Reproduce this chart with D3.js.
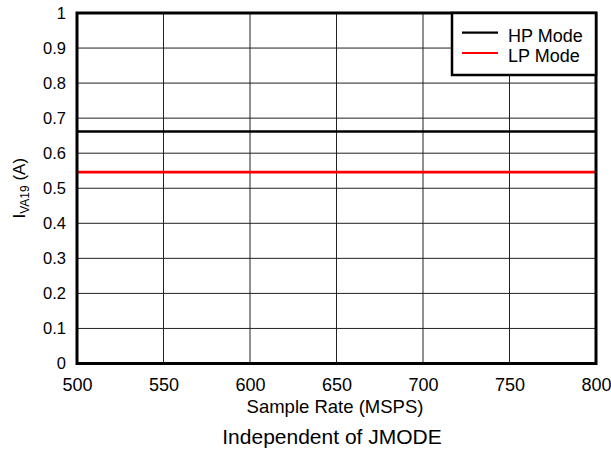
<!DOCTYPE html>
<html><head><meta charset="utf-8">
<script src="https://cdn.jsdelivr.net/npm/d3@7"></script>
<style>body{margin:0;background:#fff}svg{display:block}text{font-family:"Liberation Sans",Arial,sans-serif;fill:#000}</style>
</head><body><svg id="c" width="611" height="454"></svg>
<script>
const sampleRates = [500, 800];
const hpMode = [0.662, 0.662];
const lpMode = [0.546, 0.546];
const seriesNames = ["HP Mode", "LP Mode"];
const seriesColors = ["#000000", "#ff0000"];
const xTicks = [500, 550, 600, 650, 700, 750, 800];
const yTicks = [0, 0.1, 0.2, 0.3, 0.4, 0.5, 0.6, 0.7, 0.8, 0.9, 1];

const svg = d3.select("#c");
const L = 77, R = 596, T = 13, B = 363.5;
const x = d3.scaleLinear().domain([500, 800]).range([L, R]);
const y = d3.scaleLinear().domain([0, 1]).range([B, T]);

const g = svg.append("g");
// grid
g.selectAll(".vg").data(xTicks.slice(1, -1)).enter().append("line")
  .attr("x1", d => x(d)).attr("x2", d => x(d)).attr("y1", T).attr("y2", B)
  .attr("stroke", "#222").attr("stroke-width", 1);
g.selectAll(".hg").data(yTicks.slice(1, -1)).enter().append("line")
  .attr("y1", d => y(d)).attr("y2", d => y(d)).attr("x1", L).attr("x2", R)
  .attr("stroke", "#222").attr("stroke-width", 1);

// series
const line = d3.line().x((d, i) => x(sampleRates[i])).y(d => y(d));
[hpMode, lpMode].forEach((s, i) => {
  g.append("path").datum(s).attr("d", line).attr("fill", "none")
    .attr("stroke", seriesColors[i]).attr("stroke-width", 2.6);
});

// frame
g.append("rect").attr("x", L).attr("y", T).attr("width", R - L).attr("height", B - T)
  .attr("fill", "none").attr("stroke", "#000").attr("stroke-width", 3);

// axes
const xAxis = d3.axisBottom(x).tickValues(xTicks).tickSize(0).tickPadding(14.4).tickFormat(d3.format("d"));
const xa = svg.append("g").attr("transform", `translate(0,${B})`).call(xAxis);
xa.select(".domain").remove();
xa.selectAll("text").attr("font-size", 18).attr("font-family", "Liberation Sans, Arial, sans-serif").attr("fill", "#000");

const yAxis = d3.axisLeft(y).tickValues(yTicks).tickSize(0).tickPadding(11).tickFormat(d => d3.format("")(d));
const ya = svg.append("g").attr("transform", `translate(${L},0)`).call(yAxis);
ya.select(".domain").remove();
ya.selectAll("text").attr("font-size", 16.5).attr("font-family", "Liberation Sans, Arial, sans-serif").attr("fill", "#000");

// axis titles
svg.append("text").attr("x", 335).attr("y", 413).attr("text-anchor", "middle")
  .attr("font-size", 18.5).text("Sample Rate (MSPS)");
svg.append("text").attr("x", 332).attr("y", 443.5).attr("text-anchor", "middle")
  .attr("font-size", 21).text("Independent of JMODE");

const yl = svg.append("text").attr("transform", `translate(25,${(T + B) / 2}) rotate(-90)`)
  .attr("text-anchor", "middle").attr("font-size", 17);
yl.append("tspan").text("I");
yl.append("tspan").attr("font-size", 12).attr("dy", 4).text("VA19");
yl.append("tspan").attr("dy", -4).text(" (A)");

// legend
const lg = svg.append("g");
lg.append("rect").attr("x", 452).attr("y", T).attr("width", R - 452).attr("height", 62)
  .attr("fill", "#fff").attr("stroke", "#000").attr("stroke-width", 2.5);
seriesNames.forEach((n, i) => {
  const yy = 32.7 + i * 20.3;
  lg.append("line").attr("x1", 462).attr("x2", 498).attr("y1", yy).attr("y2", yy)
    .attr("stroke", seriesColors[i]).attr("stroke-width", 2.2);
  lg.append("text").attr("x", 508).attr("y", yy + 8.8).attr("font-size", 18).text(n);
});
</script></body></html>
